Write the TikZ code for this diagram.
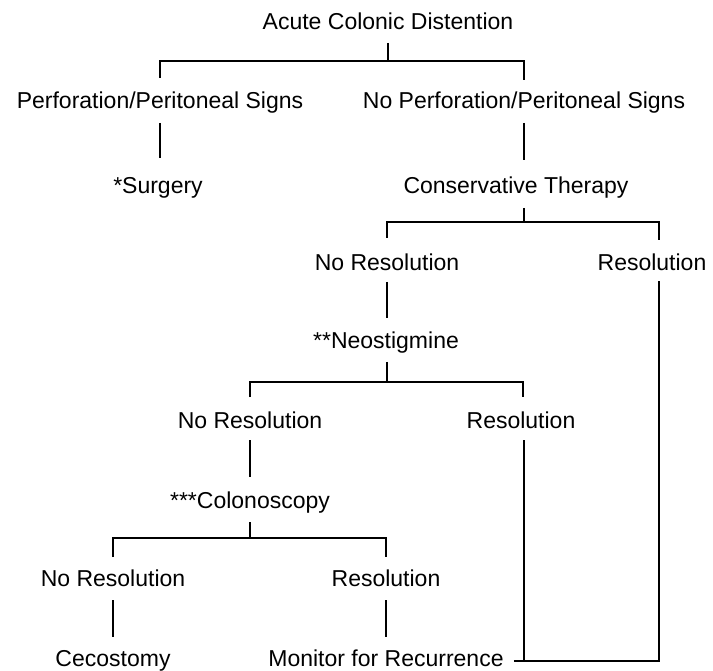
\documentclass[tikz,border=0pt]{standalone}
\usepackage{fontspec}
\setmainfont{Liberation Sans}
\usetikzlibrary{calc}
\begin{document}
\begin{tikzpicture}[x=1pt,y=-1pt,
  lbl/.style={inner sep=0pt, text height=16.5pt, text depth=0pt, anchor=center, font=\fontsize{23}{27}\selectfont},
  conn/.style={line width=1.2pt, black}]
\useasboundingbox (0,0) rectangle (713,671);
% nodes
\node[lbl] (acd)    at (388,21)  {Acute Colonic Distention};
\node[lbl] (perf)   at (160,100) {Perforation/Peritoneal Signs};
\node[lbl] (noperf) at (524,100) {No Perforation/Peritoneal Signs};
\node[lbl] (surg)   at (158,185) {*Surgery};
\node[lbl] (cons)   at (516,185) {Conservative Therapy};
\node[lbl] (nr1)    at (387,262) {No Resolution};
\node[lbl] (r1)     at (652,262) {Resolution};
\node[lbl] (neo)    at (386,340) {**Neostigmine};
\node[lbl] (nr2)    at (250,420) {No Resolution};
\node[lbl] (r2)     at (521,420) {Resolution};
\node[lbl] (colo)   at (250,500) {***Colonoscopy};
\node[lbl] (nr3)    at (113,578) {No Resolution};
\node[lbl] (r3)     at (386,578) {Resolution};
\node[lbl] (ceco)   at (113,658) {Cecostomy};
\node[lbl] (mon)    at (386,658) {Monitor for Recurrence};
% connectors
\draw[conn] (acd) ++(0,22) -- ++(0,18) coordinate (b1);
\draw[conn] ($(perf)+(0,-22)$) |- (b1) -| ($(noperf)+(0,-20)$);
\draw[conn] ($(perf)+(0,23)$) -- ($(surg)+(2,-27)$);
\draw[conn] ($(noperf)+(0,23)$) -- ($(noperf)+(0,60)$);
\draw[conn] (cons) ++(8,23) -- ++(0,14) coordinate (b2);
\draw[conn] ($(nr1)+(0,-24)$) |- (b2) -| ($(r1)+(7,-22)$);
\draw[conn] ($(nr1)+(0,20)$) -- ($(nr1)+(0,56)$);
\draw[conn] (neo) ++(1,22) -- ++(0,20) coordinate (b3);
\draw[conn] ($(nr2)+(0,-23)$) |- (b3) -| ($(r2)+(2,-23)$);
\draw[conn] ($(nr2)+(0,20)$) -- ($(colo)+(0,-23)$);
\draw[conn] (colo) ++(0,22) -- ++(0,16) coordinate (b4);
\draw[conn] ($(nr3)+(0,-21)$) |- (b4) -| ($(r3)+(0,-21)$);
\draw[conn] ($(nr3)+(0,22)$) -- ($(ceco)+(0,-21)$);
\draw[conn] ($(r3)+(0,22)$) -- ($(mon)+(0,-21)$);
\path (mon.east) ++(10,3) coordinate (mj);
\draw[conn] (mj) -| ($(r1)+(7,19)$);
\path (r2) ++(3,20) coordinate (r2d);
\draw[conn] (r2d) -- (r2d |- mj);
\end{tikzpicture}
\end{document}
